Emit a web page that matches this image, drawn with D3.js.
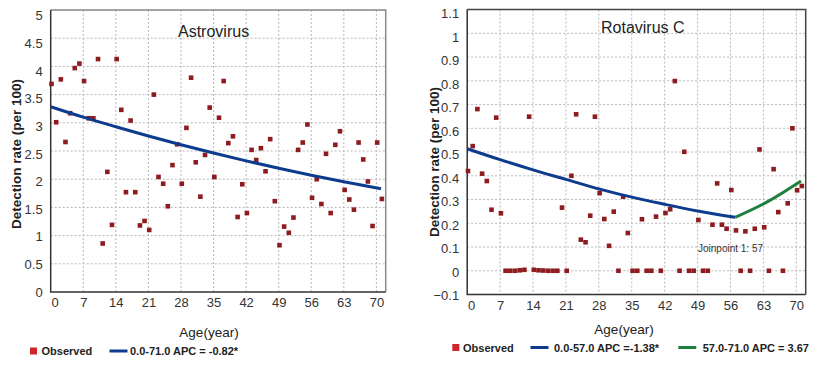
<!DOCTYPE html>
<html>
<head>
<meta charset="utf-8">
<script src="https://cdn.jsdelivr.net/npm/d3@7"></script>
<style>
  body { margin: 0; background: #fff; }
  svg { display: block; font-family: 'Liberation Sans', Arial, sans-serif; }
</style>
</head>
<body>
<div id="display"></div>
<script>
const w = 814;
const h = 367;

// ages 0..71
const ages = d3.range(0, 72);

const astroObserved = [
    3.69, 3.01, 3.77, 2.66, 3.17, 3.97, 4.05, 3.74, 3.08, 3.08,
    4.13, 0.86, 2.13, 1.19, 4.13, 3.23, 1.77, 3.04, 1.77, 1.18,
    1.26, 1.10, 3.50, 2.04, 1.92, 1.52, 2.25, 2.62, 1.92, 2.91,
    3.80, 2.30, 1.69, 2.43, 3.27, 2.04, 3.09, 3.74, 2.64, 2.76,
    1.33, 1.91, 1.40, 2.52, 2.34, 2.55, 2.14, 2.71, 1.61, 0.83,
    1.16, 1.05, 1.32, 2.52, 2.65, 2.97, 1.67, 2.00, 1.56, 2.45,
    1.40, 2.61, 2.85, 1.81, 1.64, 1.46, 2.65, 2.35, 1.96, 1.17,
    2.65, 1.65
];
const astroFitAges = [0, 7, 14, 21, 28, 35, 42, 49, 56, 63, 71];
const astroFit = [3.285, 3.10, 2.93, 2.765, 2.61, 2.465, 2.325, 2.195, 2.07, 1.955, 1.83];

const rotaObserved = [
    0.420, 0.525, 0.681, 0.409, 0.378, 0.257, 0.645, 0.242, 0.000, 0.000,
    0.000, 0.002, 0.004, 0.649, 0.004, 0.002, 0.001, 0.000, 0.000, 0.000,
    0.266, 0.000, 0.400, 0.659, 0.131, 0.120, 0.232, 0.649, 0.327, 0.218,
    0.105, 0.249, 0.000, 0.312, 0.159, 0.000, 0.000, 0.217, 0.000, 0.000,
    0.228, 0.000, 0.243, 0.259, 0.799, 0.000, 0.501, 0.000, 0.000, 0.214,
    0.000, 0.000, 0.194, 0.368, 0.194, 0.177, 0.340, 0.170, 0.000, 0.166,
    0.000, 0.177, 0.511, 0.183, 0.000, 0.428, 0.247, 0.000, 0.284, 0.600,
    0.339, 0.357
];
const rotaFit1Ages = [0, 7, 14, 21, 28, 35, 42, 49, 57];
const rotaFit1 = [0.514, 0.468, 0.425, 0.385, 0.345, 0.31, 0.28, 0.252, 0.225];
const rotaFit2Ages = [57, 64, 71];
const rotaFit2 = [0.225, 0.292, 0.378];

const xTicks = [0, 7, 14, 21, 28, 35, 42, 49, 56, 63, 70];
const astroYTicks = [0, 0.5, 1, 1.5, 2, 2.5, 3, 3.5, 4, 4.5, 5];
const rotaYTicks = [-0.1, 0, 0.1, 0.2, 0.3, 0.4, 0.5, 0.6, 0.7, 0.8, 0.9, 1, 1.1];

const markerColor = '#8e1b1f';
const blue = '#0d3b8d';
const green = '#1f7f3c';

const svg = d3.select('#display').append('svg')
    .attr('width', w)
    .attr('height', h);
svg.append('rect').attr('width', w).attr('height', h).attr('fill', '#fff');

const drawPanel = (cfg) => {
    const g = svg.append('g');
    const xScale = d3.scaleLinear().domain([0, 72]).range([cfg.left, cfg.right]);
    const yScale = d3.scaleLinear().domain(cfg.yDomain).range([cfg.bottom, cfg.top]);
    // tick labels drift slightly from the gridlines in the original
    const yLabelScale = d3.scaleLinear().domain(cfg.yDomain).range(cfg.labelRange);

    // grid
    g.append('g').selectAll('line.vg')
        .data(xTicks.filter((t) => t > 0))
        .enter().append('line')
        .attr('x1', (d) => xScale(d)).attr('x2', (d) => xScale(d))
        .attr('y1', cfg.top).attr('y2', cfg.bottom)
        .attr('stroke', '#b8b8b8').attr('stroke-dasharray', '2,2');
    g.append('g').selectAll('line.hg')
        .data(cfg.yTicks.slice(1))
        .enter().append('line')
        .attr('x1', cfg.left).attr('x2', cfg.right)
        .attr('y1', (d) => yScale(d)).attr('y2', (d) => yScale(d))
        .attr('stroke', '#b8b8b8').attr('stroke-dasharray', '2,2');

    // frame
    g.append('path')
        .attr('d', `M${cfg.left},${cfg.top}H${cfg.right}V${cfg.bottom}`)
        .attr('fill', 'none').attr('stroke', cfg.frame).attr('stroke-width', 1.5);
    g.append('path')
        .attr('d', `M${cfg.left},${cfg.top}V${cfg.bottom}H${cfg.right}`)
        .attr('fill', 'none').attr('stroke', '#333').attr('stroke-width', 1.5);

    // axes labels
    const yAxisGroup = g.append('g')
        .attr('transform', `translate(${cfg.left - 8},0)`)
        .call(d3.axisLeft(yLabelScale).tickValues(cfg.yTicks).tickSize(0).tickPadding(0)
            .tickFormat((d) => d3.format('~g')(+d.toFixed(2))));
    yAxisGroup.select('.domain').remove();
    yAxisGroup.selectAll('text').style('font-size', '13px').attr('fill', '#333')
        .style('font-family', "'Liberation Sans', Arial, sans-serif");

    const xAxisGroup = g.append('g')
        .attr('transform', `translate(0,${cfg.bottom + 6})`)
        .call(d3.axisBottom(xScale).tickValues(xTicks).tickSize(0).tickPadding(0));
    xAxisGroup.select('.domain').remove();
    xAxisGroup.selectAll('text').style('font-size', '13px').attr('fill', '#333')
        .style('font-family', "'Liberation Sans', Arial, sans-serif")
        .attr('dx', (d) => d === 0 ? 4 : 0);

    // observed points
    const s = 4.6;
    g.append('g').selectAll('rect')
        .data(cfg.observed)
        .enter().append('rect')
        .attr('x', (d, i) => xScale(ages[i]) - s / 2 + 0.8)
        .attr('y', (d) => yScale(d) - s / 2)
        .attr('width', s).attr('height', s)
        .attr('fill', markerColor);

    // fitted segments
    const line = d3.line()
        .x((d) => xScale(d[0]))
        .y((d) => yScale(d[1]))
        .curve(d3.curveMonotoneX);
    cfg.fits.forEach((f) => {
        g.append('path')
            .datum(f.ages.map((a, i) => [a, f.values[i]]))
            .attr('d', line)
            .attr('fill', 'none')
            .attr('stroke', f.color)
            .attr('stroke-width', 3)
            .attr('stroke-linecap', 'butt');
    });

    // title
    g.append('text')
        .attr('x', cfg.titleX).attr('y', cfg.titleY)
        .style('font-size', '16px').attr('fill', '#222')
        .text(cfg.title);

    g.append('text')
        .attr('transform', `translate(${cfg.yTitleX},${cfg.yTitleY}) rotate(-90)`)
        .attr('text-anchor', 'middle')
        .style('font-size', '13.5px').style('font-weight', 'bold').attr('fill', '#222')
        .text('Detection rate (per 100)');

    g.append('text')
        .attr('x', cfg.xTitleX).attr('y', cfg.xTitleY)
        .attr('text-anchor', 'middle')
        .style('font-size', '13.5px').attr('fill', '#222')
        .text('Age(year)');

    return { g, xScale, yScale };
};

const left = drawPanel({
    left: 50.7, right: 385.7, top: 10, bottom: 292,
    yDomain: [0, 5], labelRange: [292, 15.7], yTicks: astroYTicks,
    observed: astroObserved,
    fits: [{ ages: astroFitAges, values: astroFit, color: blue }],
    frame: '#8a8a8a',
    title: 'Astrovirus', titleX: 178, titleY: 36.5,
    yTitleX: 21, yTitleY: 154,
    xTitleX: 209, xTitleY: 337
});

const right = drawPanel({
    left: 467.2, right: 805.7, top: 9.6, bottom: 294.5,
    yDomain: [-0.1, 1.1], labelRange: [295.7, 13.3], yTicks: rotaYTicks,
    observed: rotaObserved,
    fits: [
        { ages: rotaFit1Ages, values: rotaFit1, color: blue },
        { ages: rotaFit2Ages, values: rotaFit2, color: green }
    ],
    frame: '#444',
    title: 'Rotavirus C', titleX: 601, titleY: 33,
    yTitleX: 439, yTitleY: 162,
    xTitleX: 624, xTitleY: 334
});

right.g.append('text')
    .attr('x', 698).attr('y', 251.5)
    .style('font-size', '10px').attr('fill', '#333')
    .text('Joinpoint 1: 57');

// legends
const makeLegend = (items, y) => {
    const lg = svg.append('g').style('font-size', '11px').style('font-weight', 'bold');
    items.forEach((it) => {
        if (it.type === 'square') {
            lg.append('rect').attr('x', it.x).attr('y', y - 7.5).attr('width', 7).attr('height', 7)
                .attr('fill', '#d0262b');
        } else {
            lg.append('line').attr('x1', it.x).attr('x2', it.x + 18)
                .attr('y1', y - 4).attr('y2', y - 4)
                .attr('stroke', it.color).attr('stroke-width', 3);
        }
        lg.append('text').attr('x', it.tx).attr('y', y).attr('fill', '#222').text(it.label);
    });
};

makeLegend([
    { type: 'square', x: 30, tx: 41.5, label: 'Observed' },
    { type: 'line', x: 109.5, color: blue, tx: 130, label: '0.0-71.0 APC = -0.82*' }
], 355);

makeLegend([
    { type: 'square', x: 452.3, tx: 463, label: 'Observed' },
    { type: 'line', x: 530.5, color: blue, tx: 554, label: '0.0-57.0 APC =-1.38*' },
    { type: 'line', x: 678.3, color: green, tx: 702.7, label: '57.0-71.0 APC = 3.67' }
], 351.5);
</script>
</body>
</html>
